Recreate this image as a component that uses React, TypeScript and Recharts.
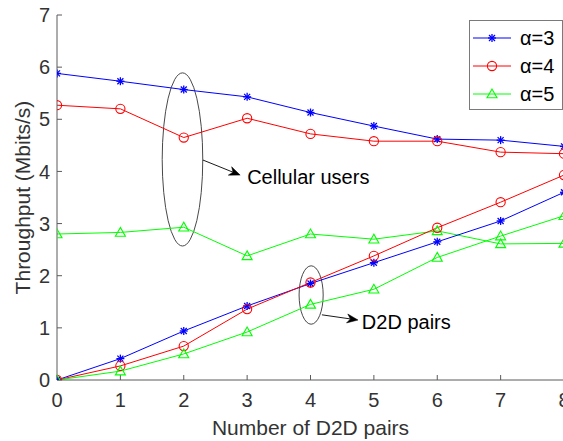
import React from 'react';
import {
  LineChart,
  Line,
  XAxis,
  YAxis,
  Legend,
  ReferenceArea,
  ReferenceLine,
  ReferenceDot,
} from 'recharts';

// ---------- data ----------
const xValues = [0, 1, 2, 3, 4, 5, 6, 7, 8];
const cellA3 = [5.88, 5.73, 5.57, 5.43, 5.13, 4.87, 4.62, 4.6, 4.48];
const cellA4 = [5.27, 5.2, 4.65, 5.02, 4.72, 4.58, 4.58, 4.37, 4.34];
const cellA5 = [2.8, 2.83, 2.93, 2.38, 2.8, 2.7, 2.86, 2.61, 2.62];
const d2dA3 = [0, 0.41, 0.94, 1.42, 1.85, 2.25, 2.65, 3.05, 3.6];
const d2dA4 = [0, 0.27, 0.65, 1.36, 1.87, 2.38, 2.92, 3.41, 3.93];
const d2dA5 = [0, 0.17, 0.5, 0.92, 1.45, 1.74, 2.35, 2.76, 3.15];
const xTicks = [0, 1, 2, 3, 4, 5, 6, 7, 8];
const yTicks = [0, 1, 2, 3, 4, 5, 6, 7];
const seriesNames = ['α=3', 'α=4', 'α=5'];
const seriesColors = ['#0000ff', '#ff0000', '#00ff00'];
const seriesMarkers = ['star', 'circle', 'triangle'];

// annotation anchors (data units)
const cellEllipse = { x1: 1.66, x2: 2.3, y1: 2.57, y2: 5.89 };
const d2dEllipse = { x1: 3.82, x2: 4.2, y1: 1.07, y2: 2.19 };
const cellArrow = [{ x: 2.3, y: 4.22 }, { x: 2.89, y: 3.93 }];
const d2dArrow = [{ x: 4.18, y: 1.25 }, { x: 4.75, y: 1.15 }];
const cellText = { x: 3.0, y: 3.9, text: 'Cellular users' };
const d2dText = { x: 4.81, y: 1.12, text: 'D2D pairs' };

const data = xValues.map((x, i) => ({
  x,
  cellA3: cellA3[i],
  cellA4: cellA4[i],
  cellA5: cellA5[i],
  d2dA3: d2dA3[i],
  d2dA4: d2dA4[i],
  d2dA5: d2dA5[i],
}));

const FONT = 'Arial, "Liberation Sans", Helvetica, sans-serif';
const AX = '#5a5a5a';
const TXT = '#333333';

function Marker({ kind, cx, cy, color }: { kind: string; cx: number; cy: number; color: string }) {
  if (kind === 'star') {
    const s = 4;
    const d = 3;
    return (
      <g stroke={color} strokeWidth={1.3} fill="none">
        <line x1={cx - s} y1={cy} x2={cx + s} y2={cy} />
        <line x1={cx} y1={cy - s} x2={cx} y2={cy + s} />
        <line x1={cx - d} y1={cy - d} x2={cx + d} y2={cy + d} />
        <line x1={cx - d} y1={cy + d} x2={cx + d} y2={cy - d} />
      </g>
    );
  }
  if (kind === 'circle') {
    return <circle cx={cx} cy={cy} r={4.6} stroke={color} strokeWidth={1.1} fill="none" />;
  }
  const h = 5;
  return (
    <polygon
      points={`${cx},${cy - h} ${cx - h},${cy + h * 0.75} ${cx + h},${cy + h * 0.75}`}
      stroke={color}
      strokeWidth={1.1}
      fill="none"
    />
  );
}

const makeDot = (kind: string, color: string, key: string) => (props: any) => {
  const { cx, cy, index } = props;
  if (cx == null || cy == null) return <g key={`${key}-${index}`} />;
  return (
    <g key={`${key}-${index}`}>
      <Marker kind={kind} cx={cx} cy={cy} color={color} />
    </g>
  );
};

const renderLegend = () => (
  <div
    style={{
      border: '1px solid #7a7a7a',
      background: '#fff',
      width: 94,
      height: 90,
      boxSizing: 'border-box',
    }}
  >
    <svg width={92} height={88} style={{ display: 'block' }}>
      {seriesNames.map((name, i) => {
        const y = 17 + i * 28;
        return (
          <g key={name}>
            <line x1={3} y1={y} x2={41} y2={y} stroke={seriesColors[i]} strokeWidth={1} />
            <Marker kind={seriesMarkers[i]} cx={22} cy={y} color={seriesColors[i]} />
            <text x={50} y={y + 7} fontSize={20} fontFamily={FONT} fill="#000">
              {name}
            </text>
          </g>
        );
      })}
    </svg>
  </div>
);

const ellipseShape = (props: any) => {
  const { x, y, width, height } = props;
  return (
    <ellipse
      cx={x + width / 2}
      cy={y + height / 2}
      rx={Math.abs(width) / 2}
      ry={Math.abs(height) / 2}
      fill="none"
      stroke="#333"
      strokeWidth={0.9}
    />
  );
};

const arrowShape = (props: any) => {
  const { x1, y1, x2, y2 } = props;
  if ([x1, y1, x2, y2].some((v) => v == null || isNaN(v))) return <g />;
  const ang = Math.atan2(y2 - y1, x2 - x1);
  const L = 11;
  const W = 4.5;
  const bx = x2 - L * Math.cos(ang);
  const by = y2 - L * Math.sin(ang);
  const px = -Math.sin(ang) * W;
  const py = Math.cos(ang) * W;
  const nx = x2 - L * 0.7 * Math.cos(ang);
  const ny = y2 - L * 0.7 * Math.sin(ang);
  return (
    <g>
      <line x1={x1} y1={y1} x2={nx} y2={ny} stroke="#000" strokeWidth={0.9} />
      <polygon
        points={`${x2},${y2} ${bx + px},${by + py} ${nx},${ny} ${bx - px},${by - py}`}
        fill="#000"
        stroke="#000"
        strokeWidth={0.5}
      />
    </g>
  );
};

const textShape = (label: string) => (props: any) => {
  const { cx, cy } = props;
  return (
    <text x={cx} y={cy} dy={7} fontSize={20} fontFamily={FONT} fill="#000">
      {label}
    </text>
  );
};

export default function App() {
  return (
    <div
      style={{
        position: 'absolute',
        left: 0,
        top: 0,
        width: 563,
        height: 441,
        overflow: 'hidden',
        background: '#fff',
      }}
    >
      <LineChart
        width={600}
        height={441}
        data={data}
        margin={{ top: 15, right: 36, left: 0, bottom: 0 }}
        style={{ fontFamily: FONT }}
      >
        <XAxis
          dataKey="x"
          type="number"
          domain={[0, 8]}
          ticks={xTicks}
          interval={0}
          allowDataOverflow
          height={61}
          tickSize={-5}
          tickMargin={18}
          axisLine={{ stroke: AX }}
          tickLine={{ stroke: AX }}
          tick={{ fontSize: 20, fill: TXT, fontFamily: FONT }}
          label={(props: any) => {
            const vb = props.viewBox || { x: 57, y: 380, width: 507, height: 61 };
            return (
              <text
                x={vb.x + vb.width / 2}
                y={vb.y + 55}
                textAnchor="middle"
                fontSize={21}
                fontFamily={FONT}
                fill={TXT}
              >
                Number of D2D pairs
              </text>
            );
          }}
        />
        <XAxis
          xAxisId="top"
          dataKey="x"
          type="number"
          orientation="top"
          domain={[0, 8]}
          ticks={xTicks}
          interval={0}
          height={0}
          tickSize={-5}
          tick={false}
          axisLine={{ stroke: AX }}
          tickLine={{ stroke: AX }}
        />
        <YAxis
          type="number"
          domain={[0, 7]}
          ticks={yTicks}
          interval={0}
          allowDataOverflow
          width={57}
          tickSize={-5}
          tickMargin={12}
          axisLine={{ stroke: AX }}
          tickLine={{ stroke: AX }}
          tick={{ fontSize: 20, fill: TXT, fontFamily: FONT }}
          label={(props: any) => {
            const vb = props.viewBox || { x: 0, y: 15, width: 57, height: 365 };
            const cx = 30;
            const cy = vb.y + vb.height / 2;
            return (
              <text
                x={cx}
                y={cy}
                transform={`rotate(-90 ${cx} ${cy})`}
                textAnchor="middle"
                fontSize={21}
                fontFamily={FONT}
                fill={TXT}
              >
                Throughput (Mbits/s)
              </text>
            );
          }}
        />
        <YAxis
          yAxisId="right"
          orientation="right"
          type="number"
          domain={[0, 7]}
          ticks={yTicks}
          interval={0}
          width={0}
          tickSize={-5}
          tick={false}
          axisLine={{ stroke: AX }}
          tickLine={{ stroke: AX }}
        />
        <Legend
          layout="vertical"
          align="center"
          verticalAlign="middle"
          content={renderLegend}
          wrapperStyle={{ left: 469, top: 20, width: 94, height: 90, right: 'auto', bottom: 'auto' }}
        />

        <ReferenceArea
          x1={cellEllipse.x1}
          x2={cellEllipse.x2}
          y1={cellEllipse.y1}
          y2={cellEllipse.y2}
          shape={ellipseShape}
          ifOverflow="visible"
        />
        <ReferenceArea
          x1={d2dEllipse.x1}
          x2={d2dEllipse.x2}
          y1={d2dEllipse.y1}
          y2={d2dEllipse.y2}
          shape={ellipseShape}
          ifOverflow="visible"
        />
        <ReferenceLine segment={cellArrow} shape={arrowShape} ifOverflow="visible" />
        <ReferenceLine segment={d2dArrow} shape={arrowShape} ifOverflow="visible" />
        <ReferenceDot x={cellText.x} y={cellText.y} shape={textShape(cellText.text)} ifOverflow="visible" />
        <ReferenceDot x={d2dText.x} y={d2dText.y} shape={textShape(d2dText.text)} ifOverflow="visible" />

        <Line
          dataKey="cellA3"
          name={seriesNames[0]}
          stroke={seriesColors[0]}
          strokeWidth={1}
          dot={makeDot(seriesMarkers[0], seriesColors[0], 'c3')}
          activeDot={false}
          isAnimationActive={false}
        />
        <Line
          dataKey="cellA4"
          name={seriesNames[1]}
          stroke={seriesColors[1]}
          strokeWidth={1}
          dot={makeDot(seriesMarkers[1], seriesColors[1], 'c4')}
          activeDot={false}
          isAnimationActive={false}
        />
        <Line
          dataKey="cellA5"
          name={seriesNames[2]}
          stroke={seriesColors[2]}
          strokeWidth={1}
          dot={makeDot(seriesMarkers[2], seriesColors[2], 'c5')}
          activeDot={false}
          isAnimationActive={false}
        />
        <Line
          dataKey="d2dA3"
          name={seriesNames[0]}
          legendType="none"
          stroke={seriesColors[0]}
          strokeWidth={1}
          dot={makeDot(seriesMarkers[0], seriesColors[0], 'd3')}
          activeDot={false}
          isAnimationActive={false}
        />
        <Line
          dataKey="d2dA4"
          name={seriesNames[1]}
          legendType="none"
          stroke={seriesColors[1]}
          strokeWidth={1}
          dot={makeDot(seriesMarkers[1], seriesColors[1], 'd4')}
          activeDot={false}
          isAnimationActive={false}
        />
        <Line
          dataKey="d2dA5"
          name={seriesNames[2]}
          legendType="none"
          stroke={seriesColors[2]}
          strokeWidth={1}
          dot={makeDot(seriesMarkers[2], seriesColors[2], 'd5')}
          activeDot={false}
          isAnimationActive={false}
        />
      </LineChart>
    </div>
  );
}
